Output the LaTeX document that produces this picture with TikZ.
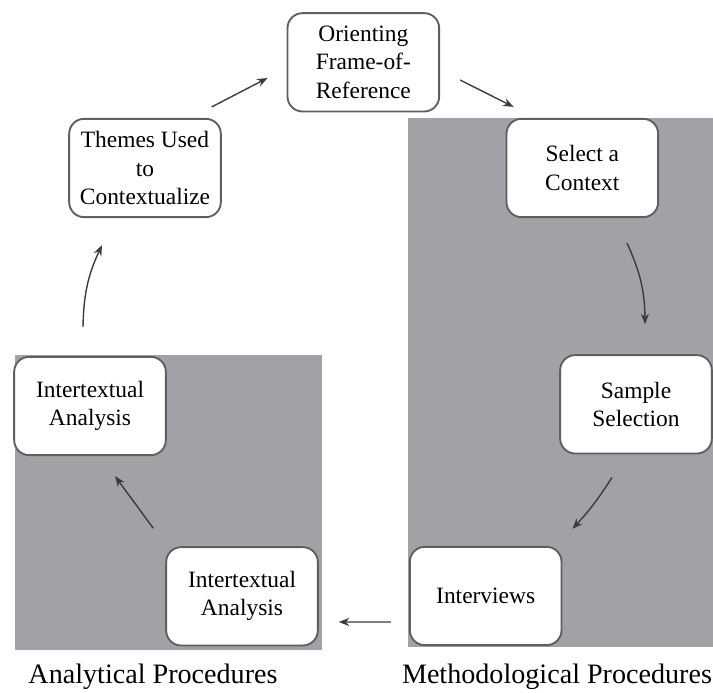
\documentclass[tikz,border=0pt]{standalone}
\usepackage{fontspec}
\setmainfont{Liberation Serif}
\usetikzlibrary{arrows.meta}

\definecolor{panelgray}{RGB}{161,162,165}
\definecolor{boxline}{RGB}{95,95,95}
\definecolor{arrowgray}{RGB}{60,60,60}

\tikzset{
    procbox/.style={draw=boxline, fill=white, line width=1.6pt, rounded corners=0.45cm,
        minimum width=4.55cm, minimum height=2.95cm, align=center, inner sep=2pt,
        font=\fontsize{20}{24}\selectfont},
    flow/.style={-{Stealth[length=9pt, width=7pt]}, line width=1.2pt, draw=arrowgray},
    caption/.style={font=\fontsize{24}{28}\selectfont}
}

\begin{document}
\begin{tikzpicture}

    \useasboundingbox (0,0) rectangle (21.39,20.79);

    % Grey panels
    \fill[panelgray] (12.24,1.38) rectangle (21.39,17.25);
    \fill[panelgray] (0.45,1.29) rectangle (9.66,10.14);

    % Steps
    \node[procbox] (orient) at (10.9,18.92) {Orienting\\Frame-of-\\Reference};
    \node[procbox] (themes) at (4.35,15.75) {Themes Used\\to\\Contextualize};
    \node[procbox] (select) at (17.47,15.75) {Select a\\Context};
    \node[procbox] (sample) at (19.08,8.66) {Sample\\Selection};
    \node[procbox] (interv) at (14.57,2.91) {Interviews};
    \node[procbox] (interB) at (7.26,2.9) {Intertextual\\Analysis};
    \node[procbox] (interA) at (2.7,8.61) {Intertextual\\Analysis};

    % Cycle
    \draw[flow] ([xshift=-0.3cm, yshift=0.33cm]themes.north east) -- ([xshift=-0.57cm, yshift=-0.47cm]orient.west);
    \draw[flow] ([xshift=0.6cm, yshift=-0.53cm]orient.east) -- ([xshift=0.24cm, yshift=0.33cm]select.north west);
    \draw[flow] ([xshift=1.34cm, yshift=-0.75cm]select.south) to[bend left=12] ([xshift=0.27cm, yshift=0.9cm]sample.north);
    \draw[flow] ([xshift=-0.72cm, yshift=-0.69cm]sample.south) to[bend left=5] ([xshift=0.3cm, yshift=0.51cm]interv.north east);
    \draw[flow] ([xshift=-0.54cm, yshift=-0.78cm]interv.west) -- ([xshift=0.6cm, yshift=-0.77cm]interB.east);
    \draw[flow] ([xshift=-0.36cm, yshift=0.54cm]interB.north west) -- ([xshift=0.75cm, yshift=-0.6cm]interA.south);
    \draw[flow] ([xshift=-0.21cm, yshift=0.87cm]interA.north) to[bend left=12] ([xshift=-1.29cm, yshift=-0.81cm]themes.south);

    % labels
    \node[caption] (anproc) at (4.59,0.5) {Analytical Procedures};
    \node[caption] (meproc) at (16.71,0.5) {Methodological Procedures};

\end{tikzpicture}
\end{document}
